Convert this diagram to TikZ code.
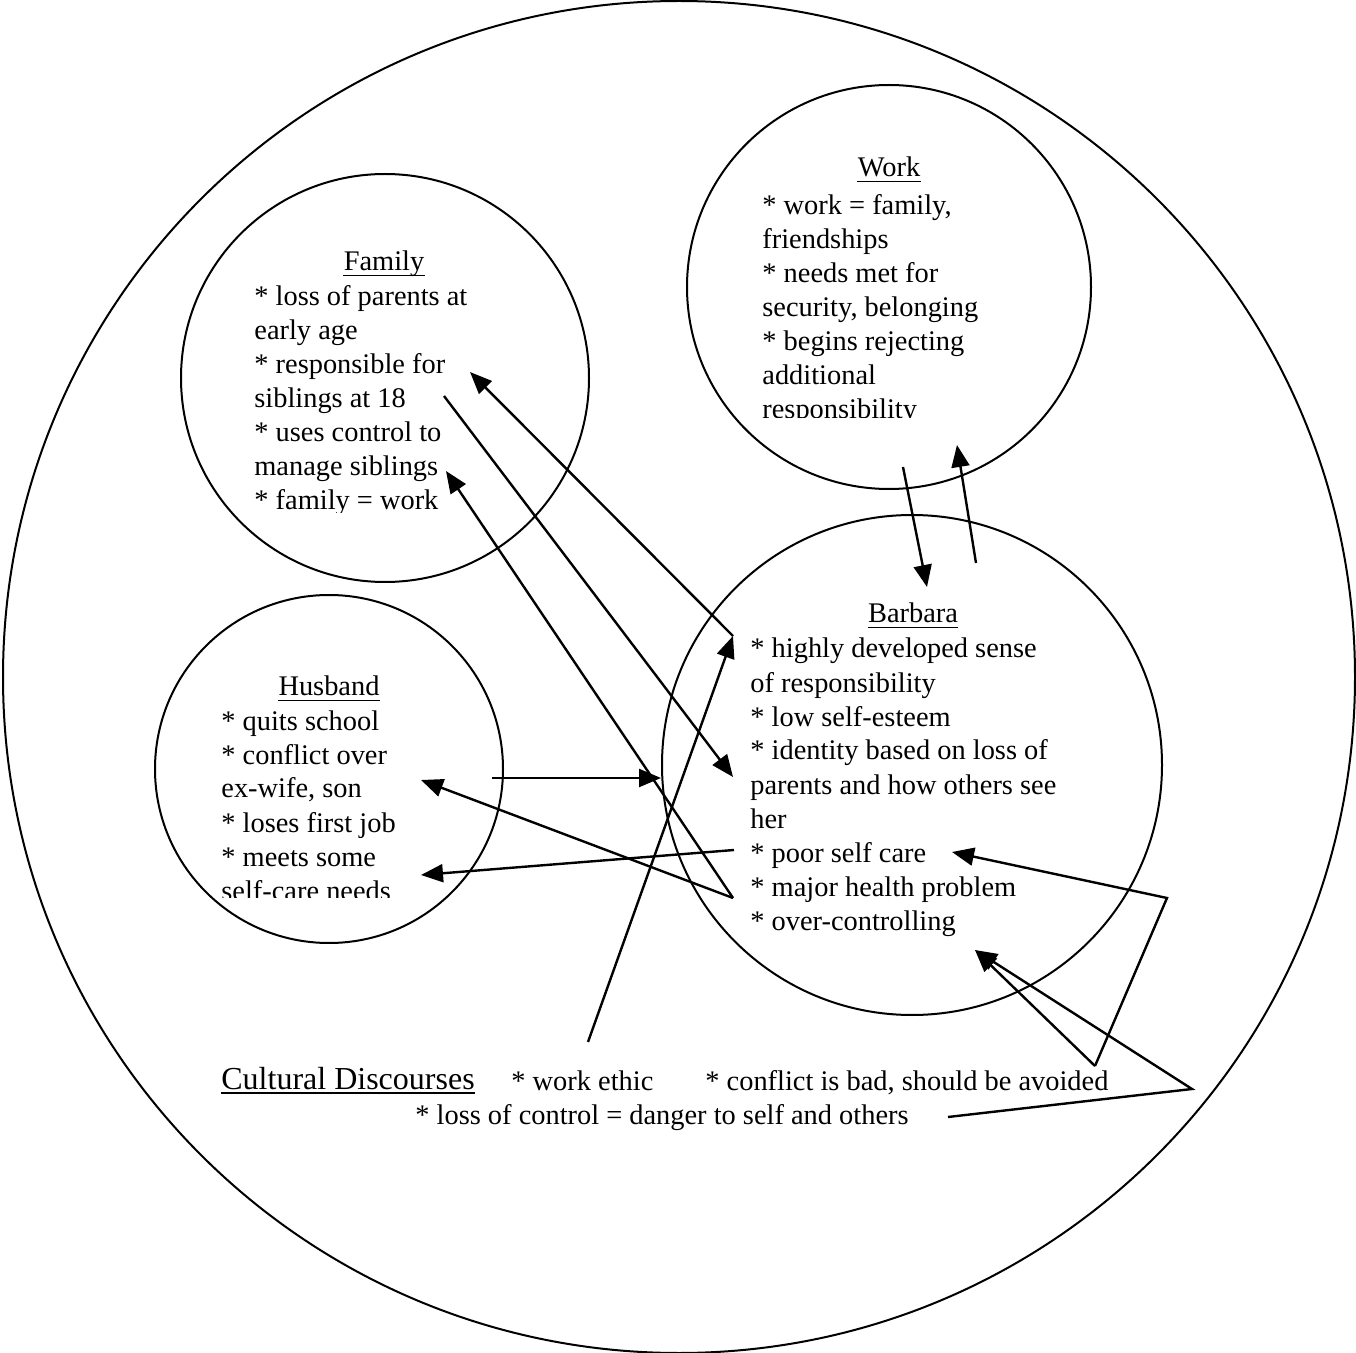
\documentclass[tikz,border=0pt]{standalone}
\usepackage{fontspec}
\setmainfont{Liberation Serif}
\usetikzlibrary{arrows.meta}
\begin{document}
\begin{tikzpicture}[x=0.5pt,y=-0.5pt,
  ring/.style={draw, circle, line width=1pt, inner sep=0pt},
  txt/.style={anchor=base west, inner sep=0pt, font=\fontsize{14.2}{17}\selectfont},
  ttl/.style={anchor=base, inner sep=0pt, font=\fontsize{14.2}{17}\selectfont},
  uline/.style={line width=0.7pt},
  lnk/.style={line width=1.2pt, line join=miter},
  arr/.style={lnk, -{Triangle[length=11pt,width=9pt]}}
]
\useasboundingbox (0,0) rectangle (1356,1353);

% circles
\node[ring, minimum size=676pt] (outer) at (679,677) {};
\node[ring, minimum size=204pt] (fam) at (385,378) {};
\node[ring, minimum size=202pt] (work) at (889,287) {};
\node[ring, minimum size=174pt] (hus) at (329,769) {};
\node[ring, minimum size=250pt] (bar) at (912,765) {};

% titles with underlines
\newcommand\heading[3]{%
  \node[ttl] (#1) at (#2) {#3};
  \draw[uline] ([yshift=-2.3pt]#1.base west) -- ([yshift=-2.3pt]#1.base east);}
\heading{famT}{384,271}{Family}
\heading{workT}{889,177}{Work}
\heading{husT}{329,696}{Husband}
\heading{barT}{913,623}{Barbara}

% Family list
\begin{scope}
\clip (0,0) rectangle (1356,513);
\foreach \t [count=\i from 0] in {{* loss of parents at},{early age},{* responsible for},{siblings at 18},{* uses control to},{manage siblings},{* family = work}}
  \node[txt] (fam-\i) at (254,306+34*\i) {\t};
\end{scope}

% Work list
\begin{scope}
\clip (0,0) rectangle (1356,418);
\foreach \t [count=\i from 0] in {{* work = family,},{friendships},{* needs met for},{security, belonging},{* begins rejecting},{additional},{responsibility}}
  \node[txt] (work-\i) at (762,215+34*\i) {\t};
\end{scope}

% Husband list
\begin{scope}
\clip (0,0) rectangle (1356,897);
\foreach \t [count=\i from 0] in {{* quits school},{* conflict over},{ex-wife, son},{* loses first job},{* meets some},{self-care needs}}
  \node[txt] (hus-\i) at (221,730+34*\i) {\t};
\end{scope}

% Barbara list
\foreach \t [count=\i from 0] in {{* highly developed sense},{of responsibility},{* low self-esteem},{* identity based on loss of},{parents and how others see},{her},{* poor self care},{* major health problem},{* over-controlling}}
  \node[txt] (bar-\i) at (750,658+34*\i) {\t};

% Cultural discourses
\node[txt, font=\fontsize{16}{19}\selectfont] (cult) at (221,1089) {Cultural Discourses};
\draw[uline] ([yshift=-2pt]cult.base west) -- ([yshift=-2pt]cult.base east);
\node[txt] (ethic) at (511,1090) {* work ethic};
\node[txt] (confl) at (705,1090) {* conflict is bad, should be avoided};
\node[txt] (ctrl) at (415,1124) {* loss of control = danger to self and others};

% connector end points
\coordinate (hd) at (733,636);
\coordinate (famR) at (470,372);
\coordinate (famS) at (444,396);
\coordinate (barId) at (733,777);
\coordinate (famM) at (446,471);
\coordinate (barMj) at (733,898);
\coordinate (husX) at (421,780);
\coordinate (husL) at (492,778);
\coordinate (barL) at (661,778);
\coordinate (barP) at (734,850);
\coordinate (husN) at (421,875);
\coordinate (ethicT) at (588,1042);
\coordinate (workA) at (903,467);
\coordinate (barTop) at (927,587);
\coordinate (barB) at (976,563);
\coordinate (workB) at (957,445);
\coordinate (conflT) at (1095,1066);
\coordinate (bendA) at (1167,898);
\coordinate (barPC) at (952,852);
\coordinate (barOC) at (975,950);
\coordinate (ctrlE) at (948,1117);
\coordinate (bendB) at (1192,1089);

% connectors
\draw[arr] (hd) -- (famR);
\draw[arr] (famS) -- (barId);
\draw[arr] (barMj) -- (famM);
\draw[arr] (barMj) -- (husX);
\draw[arr] (husL) -- (barL);
\draw[arr] (barP) -- (husN);
\draw[arr] (ethicT) -- (hd);
\draw[arr] (workA) -- (barTop);
\draw[arr] (barB) -- (workB);
\draw[arr] (conflT) -- (barOC);
\draw[arr] (conflT) -- (bendA) -- (barPC);
\draw[arr] (ctrlE) -- (bendB) -- (barOC);
\end{tikzpicture}
\end{document}
